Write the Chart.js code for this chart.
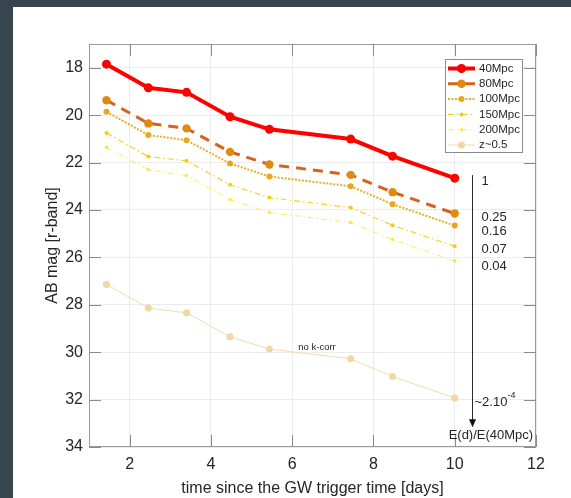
<!DOCTYPE html>
<html><head><meta charset="utf-8">
<script src="https://cdn.jsdelivr.net/npm/chart.js@4.4.0/dist/chart.umd.min.js"></script>
<style>
html,body{margin:0;padding:0;background:#36464f;width:571px;height:498px;overflow:hidden}
#wrap{position:absolute;left:13px;top:7px;width:558px;height:491px;background:#fff}
canvas{display:block}
</style></head><body>
<div id="wrap"><canvas id="c" width="558" height="491"></canvas></div>
<script>
// ---- data ----
const days   = [1.43, 2.46, 3.40, 4.47, 5.44, 7.44, 8.47, 10.0];
const mag40  = [17.85, 18.85, 19.04, 20.07, 20.60, 21.01, 21.73, 22.66];
const mag80  = [19.37, 20.35, 20.56, 21.55, 22.08, 22.52, 23.25, 24.15];
const mag100 = [19.86, 20.84, 21.06, 22.04, 22.59, 23.00, 23.76, 24.66];
const mag150 = [20.75, 21.75, 21.93, 22.94, 23.48, 23.90, 24.65, 25.53];
const mag200 = [21.36, 22.30, 22.55, 23.56, 24.11, 24.53, 25.25, 26.15];
const magZ05 = [27.14, 28.14, 28.34, 29.35, 29.87, 30.28, 31.03, 31.93];
const seriesNames = ['40Mpc', '80Mpc', '100Mpc', '150Mpc', '200Mpc', 'z~0.5'];
const xTicks = [2, 4, 6, 8, 10, 12];
const yTicks = [18, 20, 22, 24, 26, 28, 30, 32, 34];
const ratioLabels = ['1', '0.25', '0.16', '0.07', '0.04'];
const ratioMags   = [22.80, 24.30, 24.90, 25.67, 26.38];
const arrowDay = 10.42, arrowFrom = 22.53, arrowTo = 33.17;

const FONT = "'Liberation Sans', Arial, Helvetica, sans-serif";
const TXT = '#262626';

const styles = [
  {line:'#ff0000', pt:'#ff0000', w:4,   dash:[],            r:4.5},
  {line:'#d9601f', pt:'#e08a10', w:3,   dash:[10,7],        r:4.2},
  {line:'#eaae22', pt:'#e8a81e', w:2,   dash:[2,1.5],       r:3},
  {line:'#f6d320', pt:'#f3cc1a', w:1.2, dash:[6,3,1.5,3],   r:2},
  {line:'#fcec5c', pt:'#fae84a', w:1,   dash:[6,3,1.5,3],   r:1.8},
  {line:'#f3dab0', pt:'#f2d6a6', w:1,   dash:[],            r:3.5}
];
const allMags = [mag40, mag80, mag100, mag150, mag200, magZ05];

const datasets = allMags.map((m, i) => ({
  label: seriesNames[i],
  data: days.map((d, j) => ({x: d, y: m[j]})),
  borderColor: styles[i].line,
  borderWidth: styles[i].w,
  borderDash: styles[i].dash,
  pointRadius: styles[i].r,
  pointBackgroundColor: styles[i].pt,
  pointBorderColor: styles[i].pt,
  pointBorderWidth: 0,
  tension: 0,
  fill: false,
  order: i === 0 ? 0 : i
})).reverse();

const deco = {
  id: 'deco',
  afterDatasetsDraw(chart) {
    const ctx = chart.ctx, a = chart.chartArea, xs = chart.scales.x, ys = chart.scales.y;
    ctx.save();
    // box + inward ticks
    ctx.strokeStyle = '#9a9a9a'; ctx.lineWidth = 1;
    ctx.strokeRect(a.left + 0.5, a.top + 0.5, a.right - a.left - 1, a.bottom - a.top - 1);
    ctx.strokeStyle = '#8a8a8a';
    const TL = 12;
    ctx.beginPath();
    xTicks.forEach(v => { const p = Math.round(xs.getPixelForValue(v)) + 0.5;
      ctx.moveTo(p, a.bottom); ctx.lineTo(p, a.bottom - TL);
      ctx.moveTo(p, a.top); ctx.lineTo(p, a.top + TL); });
    yTicks.forEach(v => { const p = Math.round(ys.getPixelForValue(v)) + 0.5;
      ctx.moveTo(a.left, p); ctx.lineTo(a.left + TL, p);
      ctx.moveTo(a.right, p); ctx.lineTo(a.right - TL, p); });
    ctx.stroke();

    // annotations
    const ax = Math.round(xs.getPixelForValue(arrowDay)) + 0.5;
    const y0 = ys.getPixelForValue(arrowFrom), y1 = ys.getPixelForValue(arrowTo);
    ctx.strokeStyle = '#2a2a2a'; ctx.fillStyle = '#111'; ctx.lineWidth = 1;
    ctx.beginPath(); ctx.moveTo(ax, y0); ctx.lineTo(ax, y1 - 6); ctx.stroke();
    ctx.beginPath(); ctx.moveTo(ax, y1); ctx.lineTo(ax - 3.5, y1 - 8); ctx.lineTo(ax + 3.5, y1 - 8); ctx.closePath(); ctx.fill();
    ctx.fillStyle = TXT; ctx.textBaseline = 'middle'; ctx.textAlign = 'left';
    ctx.font = '13px ' + FONT;
    const tx = ax + 9;
    ratioLabels.forEach((t, i) => ctx.fillText(t, tx, ys.getPixelForValue(ratioMags[i])));
    const yz = ys.getPixelForValue(32.1);
    ctx.fillText('~2.10', ax + 2, yz);
    const w = ctx.measureText('~2.10').width;
    ctx.font = '9px ' + FONT;
    ctx.fillText('-4', ax + 2 + w, yz - 6);
    ctx.font = '13px ' + FONT;
    ctx.fillText('E(d)/E(40Mpc)', xs.getPixelForValue(9.85), ys.getPixelForValue(33.5));
    ctx.font = '9.5px ' + FONT;
    ctx.fillText('no k-corr', xs.getPixelForValue(6.15), ys.getPixelForValue(29.8));

    // legend
    const lx = 432, ly = 52, lw = 77, lh = 93;
    ctx.fillStyle = '#fff'; ctx.fillRect(lx, ly, lw, lh);
    ctx.strokeStyle = '#8a8a8a'; ctx.lineWidth = 1;
    ctx.strokeRect(lx + 0.5, ly + 0.5, lw, lh);
    ctx.font = '11.5px ' + FONT; ctx.textBaseline = 'middle';
    seriesNames.forEach((n, i) => {
      const s = styles[i], yy = ly + 9.5 + i * 15.3;
      ctx.strokeStyle = s.line; ctx.lineWidth = s.w; ctx.setLineDash(s.dash);
      ctx.beginPath(); ctx.moveTo(lx + 3, yy); ctx.lineTo(lx + 30, yy); ctx.stroke();
      ctx.setLineDash([]);
      ctx.fillStyle = s.pt; ctx.beginPath(); ctx.arc(lx + 16.5, yy, s.r, 0, Math.PI * 2); ctx.fill();
      ctx.fillStyle = TXT; ctx.fillText(n, lx + 34, yy);
    });
    ctx.restore();
  }
};

new Chart(document.getElementById('c'), {
  type: 'line',
  data: {datasets},
  options: {
    responsive: false, animation: false, devicePixelRatio: 1,
    layout: {padding: {left: 0, top: 37, right: 35, bottom: 0}},
    plugins: {legend: {display: false}, tooltip: {enabled: false}},
    scales: {
      x: {
        type: 'linear', min: 1, max: 12,
        afterBuildTicks: s => { s.ticks = xTicks.map(v => ({value: v})); },
        afterFit: s => { s.height = 51; },
        ticks: {font: {family: FONT, size: 16}, color: TXT, padding: 8, maxRotation: 0, autoSkip: false},
        grid: {color: '#ececec', drawTicks: false},
        border: {display: false},
        title: {display: true, text: 'time since the GW trigger time [days]', color: TXT,
                font: {family: FONT, size: 16, lineHeight: 1.2}, padding: {top: 0, bottom: 0}}
      },
      y: {
        type: 'linear', reverse: true, min: 17, max: 34,
        afterBuildTicks: s => { s.ticks = yTicks.map(v => ({value: v})); },
        afterFit: s => { s.width = 76; },
        ticks: {font: {family: FONT, size: 16}, color: TXT, padding: 6, autoSkip: false},
        grid: {color: '#ececec', drawTicks: false},
        border: {display: false},
        title: {display: true, text: 'AB mag [r-band]', color: TXT,
                font: {family: FONT, size: 16, lineHeight: 1.2}, padding: {top: 30, bottom: 0}}
      }
    }
  },
  plugins: [deco]
});
</script>
</body></html>
